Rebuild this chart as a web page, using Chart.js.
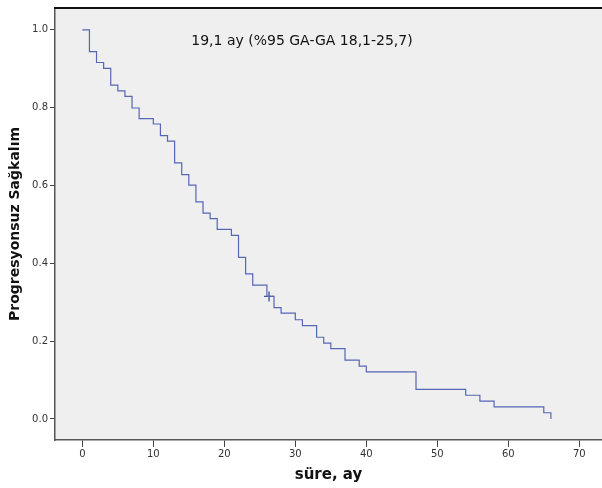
<!DOCTYPE html>
<html>
<head>
<meta charset="utf-8">
<script src="https://cdn.jsdelivr.net/npm/chart.js@4.4.0/dist/chart.umd.min.js"></script>
<style>
  html, body { margin: 0; padding: 0; background: #fff; }
  #wrap { width: 602px; height: 488px; position: relative; }
</style>
</head>
<body>
<div id="wrap"><canvas id="kmChart"></canvas></div>
<script>
// Kaplan-Meier: time (months) and survival level after each drop
const times = [0, 1, 2, 3, 4, 5, 6, 7, 8, 10, 11, 12, 13, 14, 15, 16, 17, 18, 19, 21, 22, 23, 24, 26, 27, 28, 30, 31, 33, 34, 35, 37, 39, 40, 47, 54, 56, 58, 65, 66];
const survival = [1.0, 0.944, 0.916, 0.901, 0.858, 0.843, 0.829, 0.799, 0.772, 0.758, 0.728, 0.714, 0.658, 0.628, 0.601, 0.558, 0.529, 0.515, 0.487, 0.472, 0.415, 0.373, 0.344, 0.315, 0.286, 0.272, 0.255, 0.240, 0.210, 0.195, 0.181, 0.151, 0.136, 0.121, 0.076, 0.061, 0.046, 0.031, 0.016, 0.0];
const censorTimes = [26.3];
const censorValues = [0.315];
const xTicks = [0, 10, 20, 30, 40, 50, 60, 70];
const yTicks = [0.0, 0.2, 0.4, 0.6, 0.8, 1.0];
const medianText = '19,1 ay (%95 GA-GA 18,1-25,7)';

const FONT = '"DejaVu Sans", sans-serif';

const framePlugin = {
    id: 'frame',
    beforeDraw(chart) {
        const a = chart.chartArea, ctx = chart.ctx;
        ctx.save();
        ctx.fillStyle = '#efefef';
        ctx.fillRect(a.left, a.top, a.right - a.left, a.bottom - a.top);
        ctx.restore();
    },
    afterDraw(chart) {
        const a = chart.chartArea, ctx = chart.ctx;
        ctx.save();
        ctx.strokeStyle = '#111';
        ctx.lineWidth = 2;
        ctx.beginPath();
        ctx.moveTo(a.left - 1, a.top);
        ctx.lineTo(a.right, a.top);
        ctx.stroke();
        ctx.fillStyle = '#111';
        ctx.font = '14px ' + FONT;
        ctx.textAlign = 'center';
        ctx.textBaseline = 'alphabetic';
        ctx.fillText(medianText, 302, 45);
        ctx.restore();
    }
};

new Chart(document.getElementById('kmChart'), {
    type: 'line',
    data: {
        datasets: [{
            data: times.map((t, i) => ({ x: t, y: survival[i] })),
            stepped: true,
            borderColor: '#5567b5',
            borderWidth: 1.2,
            pointRadius: 0,
            fill: false
        }, {
            data: censorTimes.map((t, i) => ({ x: t, y: censorValues[i] })),
            showLine: false,
            pointStyle: 'cross',
            pointRadius: 5,
            borderColor: '#3a4ea8',
            borderWidth: 1.3
        }]
    },
    options: {
        responsive: true,
        maintainAspectRatio: false,
        animation: false,
        layout: { autoPadding: false, padding: { top: 6, right: 0, left: 0, bottom: 0 } },
        plugins: { legend: { display: false }, tooltip: { enabled: false } },
        scales: {
            x: {
                type: 'linear',
                min: -3.85,
                max: 73.2,
                afterBuildTicks: s => { s.ticks = xTicks.map(v => ({ value: v })); },
                afterFit: s => { s.height = 48; },
                grid: { drawOnChartArea: false, drawTicks: true, tickLength: 7, color: '#444', lineWidth: 1 },
                border: { display: true, color: '#555', width: 1.5 },
                ticks: { color: '#333', font: { family: FONT, size: 10 }, padding: 1 },
                title: { display: true, text: 'süre, ay', color: '#111', font: { family: FONT, size: 15, weight: 'bold' }, padding: { top: 6 } }
            },
            y: {
                min: -0.054,
                max: 1.056,
                afterBuildTicks: s => { s.ticks = yTicks.map(v => ({ value: v })); },
                afterFit: s => { s.width = 55; },
                grid: { drawOnChartArea: false, drawTicks: true, tickLength: 5, color: '#444', lineWidth: 1 },
                border: { display: true, color: '#555', width: 1.5 },
                ticks: { color: '#333', font: { family: FONT, size: 10 }, padding: 2, callback: v => v.toFixed(1) },
                title: { display: true, text: 'Progresyonsuz Sağkalım', color: '#111', font: { family: FONT, size: 14, weight: 'bold' }, padding: { top: 7, bottom: 0 } }
            }
        }
    },
    plugins: [framePlugin]
});
</script>
</body>
</html>
